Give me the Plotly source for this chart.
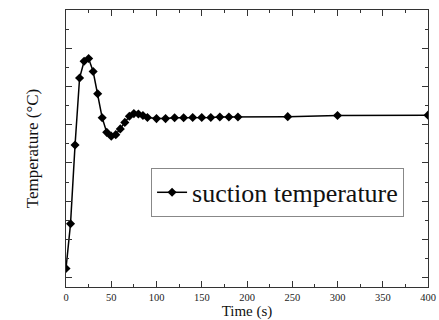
import plotly.graph_objects as go

time_s = [0, 5, 10, 15, 20, 25, 30, 35, 40, 45, 50, 55, 60, 65, 70, 75, 80, 85, 90,
          100, 110, 120, 130, 140, 150, 160, 170, 180, 190, 245, 300, 400]
temperature = [0.24, 1.41, 3.47, 5.22, 5.66, 5.73, 5.39, 4.81, 4.18, 3.80, 3.70, 3.74,
               3.89, 4.06, 4.22, 4.29, 4.28, 4.24, 4.19,
               4.16, 4.16, 4.18, 4.18, 4.19, 4.19, 4.19, 4.20, 4.20, 4.20, 4.21, 4.24, 4.25]
x_ticks = [0, 50, 100, 150, 200, 250, 300, 350, 400]

FONT = "'Liberation Serif', 'Times New Roman', serif"

fig = go.Figure()
fig.add_trace(go.Scatter(
    x=time_s, y=temperature, mode="lines+markers",
    name="suction temperature",
    line=dict(color="black", width=1.5),
    marker=dict(symbol="diamond", size=7, color="black"),
))

axis_common = dict(
    showgrid=False, zeroline=False, showline=True, linecolor="#333333", linewidth=1,
    mirror="ticks", ticks="inside", tickcolor="#333333", ticklen=6, tickwidth=1,
)

fig.update_xaxes(
    range=[0, 400], tickvals=x_ticks, ticktext=[str(v) for v in x_ticks],
    tickfont=dict(family=FONT, size=10.5, color="#222"),
    ticklabelstandoff=0,
    title=dict(text="Time (s)", font=dict(family=FONT, size=15, color="#111"), standoff=5),
    minor=dict(dtick=25, tick0=0, ticks="inside", ticklen=3, tickcolor="#333333"),
    **axis_common,
)
fig.update_yaxes(
    range=[-0.245, 7.0], dtick=1, tick0=0, showticklabels=False,
    title=dict(text="Temperature (°C)", font=dict(family=FONT, size=17, color="#111"), standoff=22),
    minor=dict(dtick=0.5, tick0=0, ticks="inside", ticklen=3, tickcolor="#333333"),
    **axis_common,
)

fig.update_layout(
    width=439, height=320, autosize=False,
    margin=dict(l=66, r=11, t=10, b=33, autoexpand=False),
    paper_bgcolor="white", plot_bgcolor="white",
    font=dict(family=FONT),
    legend=dict(
        x=0.235, y=0.43, xanchor="left", yanchor="top",
        bgcolor="white", bordercolor="#888888", borderwidth=1,
        font=dict(family=FONT, size=26, color="#111"),
    ),
    showlegend=True,
)

fig.write_html("out.html")
